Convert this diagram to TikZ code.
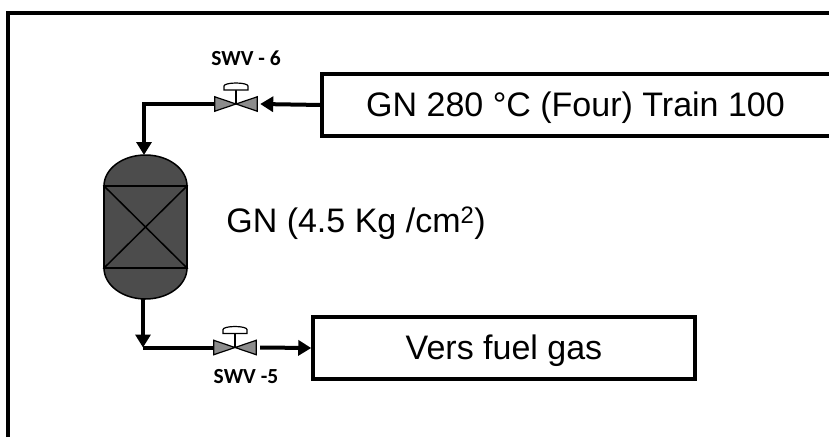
\documentclass[tikz,border=0pt]{standalone}
\usepackage{fontspec}
\setmainfont{Liberation Sans}
\newfontfamily\labelfont{Carlito}
\usetikzlibrary{arrows.meta}
\tikzset{
  pipe/.style={line width=4pt,-{Triangle[length=13pt,width=15pt]}},
  pipeplain/.style={line width=4pt},
  unitbox/.style={line width=3.5pt},
  bigtext/.style={font=\fontsize{34}{38}\selectfont,text height=30pt,text depth=7pt},
  valvelabel/.style={font=\labelfont\bfseries\fontsize{21.5}{24}\selectfont},
  valvebody/.style={minimum width=42pt,minimum height=14pt,inner sep=0pt},
  valveside/.style={draw,line width=1.2pt,fill=black!45},
  vesselline/.style={line width=1.5pt},
}
\begin{document}
\begin{tikzpicture}[x=1pt,y=-1pt]
\useasboundingbox (0,0) rectangle (829,437);
\draw[line width=4pt] (8,437) -- (8,13) -- (829,13);
% vessel
\fill[black!70] (104,186) arc[start angle=180,end angle=360,x radius=41.5,y radius=31] -- (187,268) arc[start angle=0,end angle=180,x radius=41.5,y radius=31] -- cycle;
\draw[vesselline] (104,186) arc[start angle=180,end angle=360,x radius=41.5,y radius=31] -- (187,268) arc[start angle=0,end angle=180,x radius=41.5,y radius=31] -- cycle;
\node (vessel) at (145.5,227) [minimum width=83pt,minimum height=82pt,draw,line width=1.5pt,inner sep=0pt] {};
\draw[vesselline] (vessel.north west) -- (vessel.south east);
\draw[vesselline] (vessel.north east) -- (vessel.south west);
\coordinate (vesseltop) at (144,155);
\coordinate (vesselbot) at (143,299);
% boxes
\node (four) [minimum width=507pt,minimum height=62pt,inner sep=0pt,bigtext] at (575.5,105) {GN 280 °C (Four) Train 100};
\draw[unitbox] (four.north east) -- (four.north west) -- (four.south west) -- (four.south east);
\node (fuel) [draw,unitbox,minimum width=382pt,minimum height=62pt,inner sep=0pt,bigtext] at (504,348) {Vers fuel gas};
\node (gn) [bigtext] at (356,221) {GN (4.5 Kg /cm\textsuperscript{2})};
% valves
\node (valve6) [valvebody] at (236,104) {};
\node (valve5) [valvebody] at (235,347.5) {};
\foreach \v in {valve6,valve5}{
  \draw[valveside] (\v.center) -- (\v.north west) -- (\v.south west) -- cycle;
  \draw[valveside] (\v.center) -- (\v.north east) -- (\v.south east) -- cycle;
  \draw[line width=1.2pt] (\v.center) -- ++(0,-14);
  \draw[line width=1.2pt,fill=white] ([shift={(-12,-14)}]\v.center) -- ++(0,-4) arc[start angle=180,end angle=360,x radius=12,y radius=3] -- ++(0,4) -- cycle;
}
\node[valvelabel] (swv6) at (246,58) {SWV - 6};
\node[valvelabel] (swv5) at (246,377) {SWV -5};
% pipes
\draw[pipe] (four.west) -- ([xshift=3pt]valve6.east);
\draw[pipe] (valve6.west) -| (vesseltop);
\draw[pipe] (vesselbot) -- (vesselbot |- valve5.west);
\draw[pipeplain] (vesselbot |- valve5.west) -- (valve5.west);
\draw[pipe] ([xshift=4pt]valve5.east) -- (fuel.west);
\end{tikzpicture}
\end{document}
